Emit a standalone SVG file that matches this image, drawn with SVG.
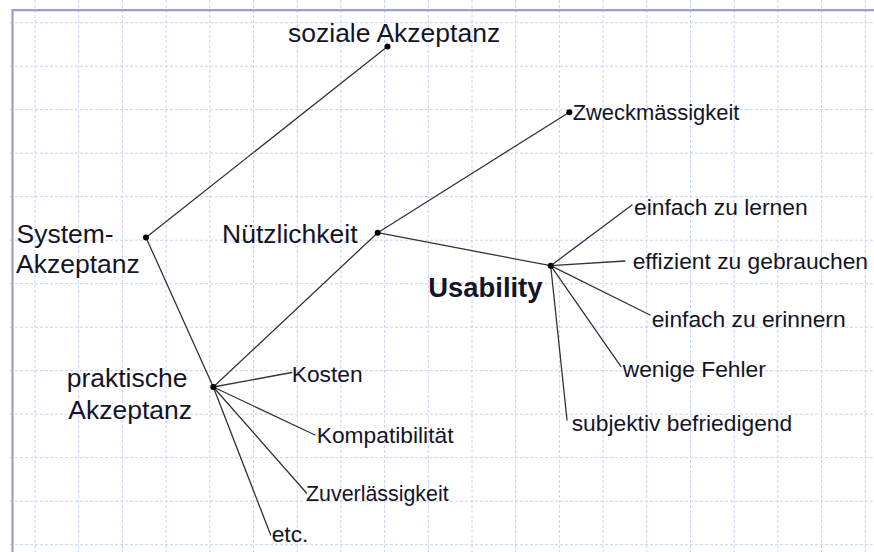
<svg xmlns="http://www.w3.org/2000/svg" width="874" height="552" viewBox="0 0 874 552">
  <style>
    .grid line { stroke: #c6d1f6; stroke-width: 1; stroke-dasharray: 3 2; }
    .frame { stroke: #9d9dc9; stroke-width: 2.2; fill: none; }
    .edge { stroke: #333; stroke-width: 1.3; fill: none; stroke-linecap: round; }
    .dot { fill: #000; }
    text { font-family: "Liberation Sans", Arial, sans-serif; fill: #141428; }
    .big { font-size: 26.5px; }
    .small { font-size: 22.8px; }
    .bold { font-weight: bold; font-size: 27.4px; }
  </style>
  <rect width="874" height="552" fill="#fff"/>

  <!-- background grid -->
  <g class="grid">
    <line x1="35" y1="0" x2="35" y2="552"/>
    <line x1="78.7" y1="0" x2="78.7" y2="552"/>
    <line x1="122.4" y1="0" x2="122.4" y2="552"/>
    <line x1="166.1" y1="0" x2="166.1" y2="552"/>
    <line x1="209.8" y1="0" x2="209.8" y2="552"/>
    <line x1="253.5" y1="0" x2="253.5" y2="552"/>
    <line x1="297.2" y1="0" x2="297.2" y2="552"/>
    <line x1="340.9" y1="0" x2="340.9" y2="552"/>
    <line x1="384.6" y1="0" x2="384.6" y2="552"/>
    <line x1="428.3" y1="0" x2="428.3" y2="552"/>
    <line x1="472" y1="0" x2="472" y2="552"/>
    <line x1="515.7" y1="0" x2="515.7" y2="552"/>
    <line x1="559.4" y1="0" x2="559.4" y2="552"/>
    <line x1="603.1" y1="0" x2="603.1" y2="552"/>
    <line x1="646.8" y1="0" x2="646.8" y2="552"/>
    <line x1="690.5" y1="0" x2="690.5" y2="552"/>
    <line x1="734.2" y1="0" x2="734.2" y2="552"/>
    <line x1="777.9" y1="0" x2="777.9" y2="552"/>
    <line x1="821.6" y1="0" x2="821.6" y2="552"/>
    <line x1="865.3" y1="0" x2="865.3" y2="552"/>
    <line x1="10" y1="22.7" x2="874" y2="22.7"/>
    <line x1="10" y1="66.2" x2="874" y2="66.2"/>
    <line x1="10" y1="109.7" x2="874" y2="109.7"/>
    <line x1="10" y1="153.2" x2="874" y2="153.2"/>
    <line x1="10" y1="196.7" x2="874" y2="196.7"/>
    <line x1="10" y1="240.2" x2="874" y2="240.2"/>
    <line x1="10" y1="283.7" x2="874" y2="283.7"/>
    <line x1="10" y1="327.2" x2="874" y2="327.2"/>
    <line x1="10" y1="370.7" x2="874" y2="370.7"/>
    <line x1="10" y1="414.2" x2="874" y2="414.2"/>
    <line x1="10" y1="457.7" x2="874" y2="457.7"/>
    <line x1="10" y1="501.2" x2="874" y2="501.2"/>
    <line x1="10" y1="544.7" x2="874" y2="544.7"/>
  </g>

  <!-- page frame -->
  <path class="frame" d="M12.5 552 V10.2 H874"/>

  <!-- connectors -->
  <g id="connectors">
    <line class="edge" x1="146" y1="237.5" x2="387.5" y2="46.5"/>
    <line class="edge" x1="146" y1="237.5" x2="213.3" y2="387"/>
    <line class="edge" x1="213.3" y1="387" x2="377.7" y2="232.7"/>
    <line class="edge" x1="377.7" y1="232.7" x2="569.3" y2="112.3"/>
    <line class="edge" x1="377.7" y1="232.7" x2="550.7" y2="265.7"/>
    <line class="edge" x1="550.7" y1="265.7" x2="632" y2="205"/>
    <line class="edge" x1="550.7" y1="265.7" x2="625" y2="261"/>
    <line class="edge" x1="550.7" y1="265.7" x2="650" y2="315"/>
    <line class="edge" x1="550.7" y1="265.7" x2="621" y2="366.7"/>
    <line class="edge" x1="550.7" y1="265.7" x2="567" y2="420"/>
    <line class="edge" x1="213.3" y1="387" x2="291.7" y2="372.5"/>
    <line class="edge" x1="213.3" y1="387" x2="315" y2="435"/>
    <line class="edge" x1="213.3" y1="387" x2="306.5" y2="493"/>
    <line class="edge" x1="213.3" y1="387" x2="270.7" y2="535"/>
  </g>

  <!-- nodes -->
  <g id="system-akzeptanz">
    <circle class="dot" cx="146" cy="237.5" r="3"/>
    <text class="big" x="16.5" y="243.3">System-</text>
    <text class="big" x="16" y="273.3">Akzeptanz</text>
  </g>
  <g id="soziale-akzeptanz">
    <circle class="dot" cx="387.5" cy="46.5" r="3"/>
    <text class="big" x="288" y="41.7">soziale Akzeptanz</text>
  </g>
  <g id="praktische-akzeptanz">
    <circle class="dot" cx="213.3" cy="387" r="3"/>
    <text class="big" x="66.7" y="386.7">praktische</text>
    <text class="big" x="68.3" y="418.5">Akzeptanz</text>
  </g>
  <g id="nuetzlichkeit">
    <circle class="dot" cx="377.7" cy="232.7" r="3"/>
    <text class="big" x="222" y="243">Nützlichkeit</text>
  </g>
  <g id="zweckmaessigkeit">
    <circle class="dot" cx="569.3" cy="112.3" r="3"/>
    <text class="small" x="572.7" y="120" style="font-size:21.9px">Zweckmässigkeit</text>
  </g>
  <g id="usability">
    <circle class="dot" cx="550.7" cy="265.7" r="3"/>
    <text class="bold" x="428.3" y="297">Usability</text>
  </g>
  <g id="einfach-zu-lernen">
    <text class="small" x="634" y="215">einfach zu lernen</text>
  </g>
  <g id="effizient-zu-gebrauchen">
    <text class="small" x="632.7" y="269.3">effizient zu gebrauchen</text>
  </g>
  <g id="einfach-zu-erinnern">
    <text class="small" x="651.7" y="326.7">einfach zu erinnern</text>
  </g>
  <g id="wenige-fehler">
    <text class="small" x="622.7" y="376.7">wenige Fehler</text>
  </g>
  <g id="subjektiv-befriedigend">
    <text class="small" x="571.7" y="431">subjektiv befriedigend</text>
  </g>
  <g id="kosten">
    <text class="small" x="291.7" y="382.3">Kosten</text>
  </g>
  <g id="kompatibilitaet">
    <text class="small" x="316.7" y="443.3">Kompatibilität</text>
  </g>
  <g id="zuverlaessigkeit">
    <text class="small" x="306" y="500.7" style="font-size:21.4px">Zuverlässigkeit</text>
  </g>
  <g id="etc">
    <text class="small" x="271.7" y="541.5">etc.</text>
  </g>
</svg>
